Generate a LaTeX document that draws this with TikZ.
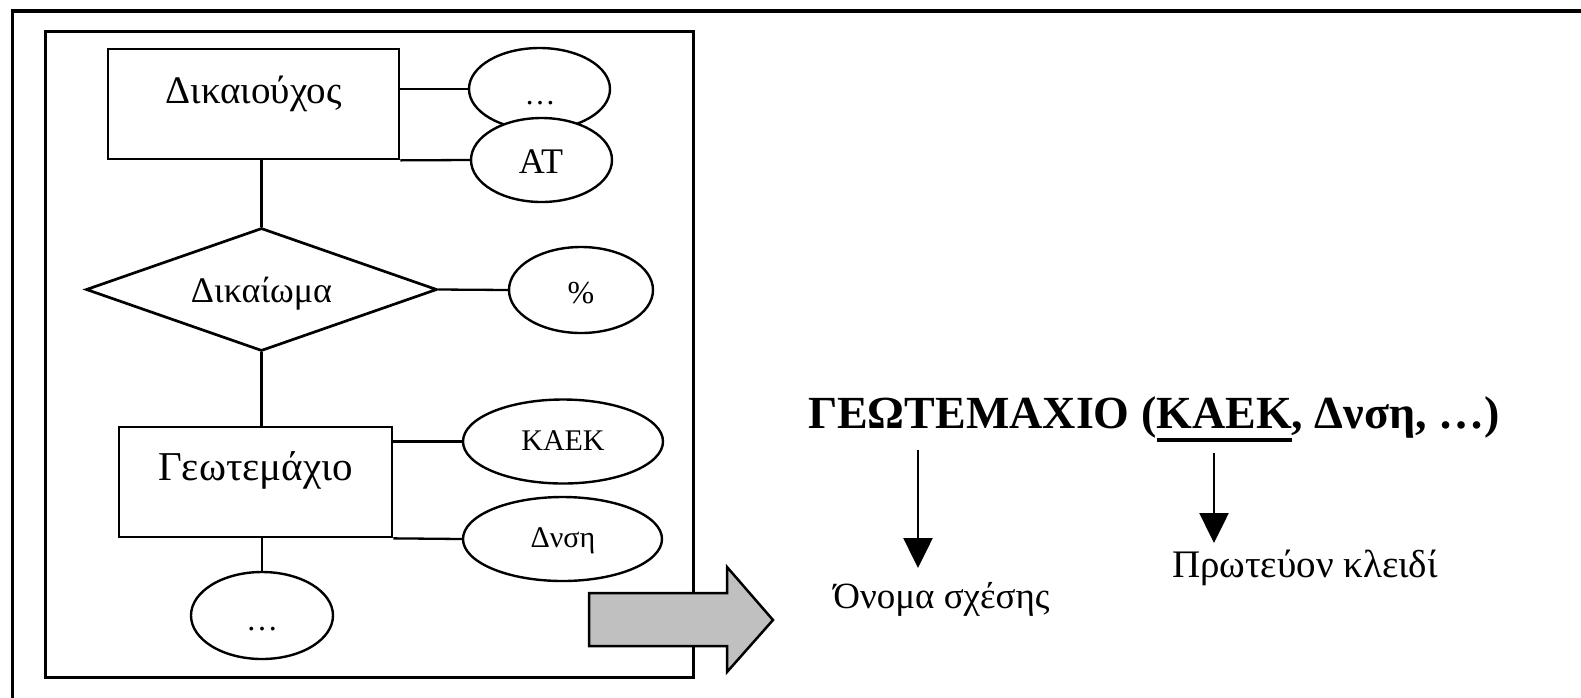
\documentclass[tikz,border=0pt]{standalone}
\usepackage{fontspec}
\setmainfont{Liberation Serif}
\usetikzlibrary{shapes.geometric,arrows.meta}
\definecolor{arrgray}{HTML}{C0C0C0}
\newcommand\setfs[1]{\fontsize{#1}{#1}\selectfont}
\begin{document}
\begin{tikzpicture}[x=1pt,y=-1pt,
  ent/.style={draw,rectangle,line width=2.7pt,inner sep=0pt,fill=white},
  rel/.style={draw,diamond,line width=2.7pt,inner sep=0pt,fill=white},
  attr/.style={draw,ellipse,line width=2.4pt,inner sep=0pt,fill=white},
  conn/.style={line width=2.3pt},
  lbl/.style={inner sep=0pt,outer sep=0pt,anchor=base},
  ptr/.style={line width=2.5pt,-{Triangle[width=29pt,length=30pt]}},
]
\useasboundingbox (0,0) rectangle (1581,697);
\clip (0,0) rectangle (1581,697);
\fill[white] (0,0) rectangle (1581,697);

% outer frame (its right and bottom sides run off the page)
\draw[line width=3.6pt] (12.5,760) -- (12.5,11) -- (1640,11);

% frame round the ER diagram
\draw[line width=3pt] (45.5,31) rectangle (693,677);

% entities, relationship and attributes
\node[ent,minimum width=291pt,minimum height=110pt] (r1) at (253.5,104) {};
\node[ent,minimum width=273pt,minimum height=110pt] (r2) at (255.5,482) {};
\node[rel,minimum width=351pt,minimum height=123pt] (d) at (261.5,289.5) {};

\node[attr,minimum width=141pt,minimum height=82pt] (eDots1) at (539.5,89) {};
\node[attr,minimum width=141pt,minimum height=84pt] (eAT) at (541.5,160) {};
\node[attr,minimum width=144pt,minimum height=86pt] (ePct) at (581,290) {};
\node[attr,minimum width=200pt,minimum height=84pt] (eKAEK) at (563,441.5) {};
\node[attr,minimum width=199pt,minimum height=84pt] (eDnsi) at (562.5,539) {};
\node[attr,minimum width=142pt,minimum height=87pt] (eDots2) at (262,615.5) {};

% connectors
\draw[conn] (eDots1.west -| r1.east) -- (eDots1.west);
\draw[conn] (r1.south east) -- (eAT.west);
\draw[conn] (d.north) -- (d.north |- r1.south);
\draw[conn] (d.east) -- (ePct.west);
\draw[conn] (d.south) -- (d.south |- r2.north);
\draw[conn] (eKAEK.west -| r2.east) -- (eKAEK.west);
\draw[conn] (r2.south east) -- (eDnsi.west);
\draw[conn] (eDots2.north) -- (eDots2.north |- r2.south);

% labels
\node[lbl,font=\setfs{39}] (tDik) at (253.5,103) {Δικαιούχος};
\node[lbl,font=\setfs{36}] (tRel) at (261.5,302) {Δικαίωμα};
\node[lbl,font=\setfs{41}] (tGeo) at (255.5,480) {Γεωτεμάχιο};
\node[lbl,font=\setfs{31}] (tDots1) at (540,104) {…};
\node[lbl,font=\setfs{36}] (tAT) at (541,173) {ΑΤ};
\node[lbl,font=\setfs{32}] (tPct) at (581,303) {\%};
\node[lbl,font=\setfs{30}] (tKAEK) at (563,450) {ΚΑΕΚ};
\node[lbl,font=\setfs{30}] (tDnsi) at (563,547) {Δνση};
\node[lbl,font=\setfs{32}] (tDots2) at (262,630) {…};

% transition arrow
\draw[line width=2.5pt,fill=arrgray,line join=miter]
  (589,593) -- (727,593) -- (727,567) -- (773,620) -- (727,672) -- (727,646) -- (589,646) -- cycle;

% relation schema
\begin{scope}[every node/.style={lbl,anchor=base west,font=\setfs{46}\bfseries}]
  \node (t1) at (808,428) {ΓΕΩΤΕΜΑΧΙΟ (};
  \node (t2) at (t1.base east) {ΚΑΕΚ};
  \node (t3) at (t2.base east) {, Δνση, …)};
\end{scope}
\draw[line width=4pt] ([yshift=-12pt]t2.base west) -- ([yshift=-12pt]t2.base east);

\coordinate (p1s) at (918,450);
\coordinate (p1e) at (918,568);
\coordinate (p2s) at (1214,453);
\coordinate (p2e) at (1214,543);
\draw[ptr] (p1s) -- (p1e);
\draw[ptr] (p2s) -- (p2e);

\node[lbl,font=\setfs{37}] (tName) at (941.5,608) {Όνομα σχέσης};
\node[lbl,anchor=base west,font=\setfs{39}] (tKey) at (1172,577) {Πρωτεύον κλειδί};
\end{tikzpicture}
\end{document}
